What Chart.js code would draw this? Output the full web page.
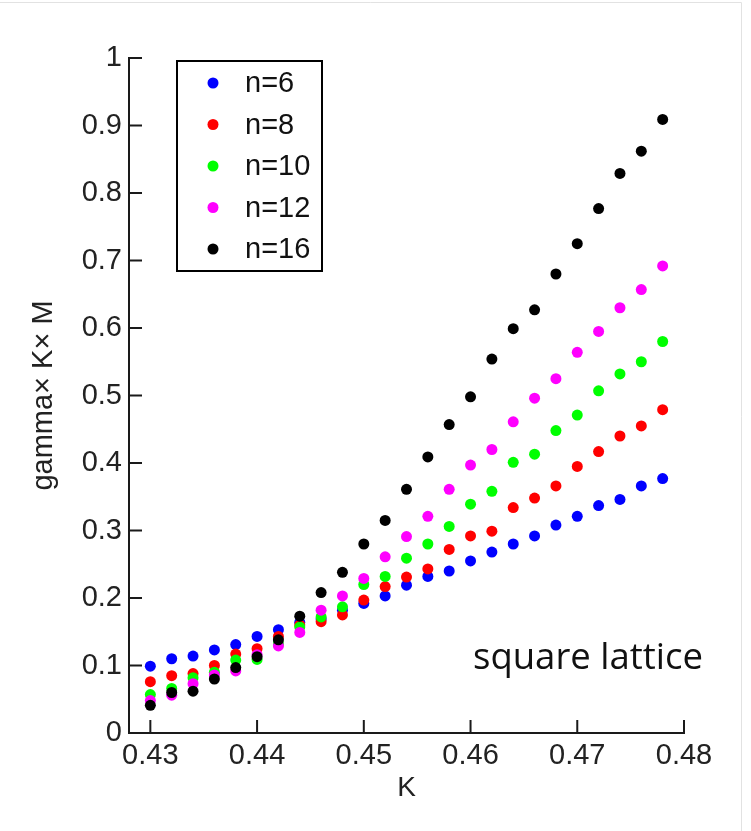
<!DOCTYPE html>
<html>
<head>
<meta charset="utf-8">
<script src="https://cdn.jsdelivr.net/npm/chart.js@4"></script>
<style>
  body { margin: 0; background: #fff; }
  #wrap { width: 751px; height: 831px; }
</style>
</head>
<body>
<div id="wrap"><canvas id="latticeChart" width="751" height="831"></canvas></div>
<script>
// K values (x axis)
const kValues = [0.430, 0.432, 0.434, 0.436, 0.438, 0.440, 0.442, 0.444, 0.446, 0.448,
                 0.450, 0.452, 0.454, 0.456, 0.458, 0.460, 0.462, 0.464, 0.466, 0.468,
                 0.470, 0.472, 0.474, 0.476, 0.478];

// gamma x K x M for each lattice size
const n6 = [0.099, 0.110, 0.114, 0.123, 0.131, 0.143, 0.153, 0.164, 0.169, 0.182,
            0.192, 0.203, 0.219, 0.232, 0.240, 0.255, 0.268, 0.280, 0.292, 0.308,
            0.321, 0.337, 0.346, 0.366, 0.377];
const n8 = [0.076, 0.085, 0.088, 0.100, 0.117, 0.125, 0.143, 0.160, 0.165, 0.175,
            0.197, 0.217, 0.231, 0.243, 0.272, 0.292, 0.299, 0.334, 0.348, 0.366,
            0.395, 0.417, 0.440, 0.455, 0.479];
const n10 = [0.057, 0.066, 0.082, 0.090, 0.108, 0.109, 0.132, 0.157, 0.172, 0.187,
             0.220, 0.232, 0.259, 0.280, 0.306, 0.339, 0.358, 0.401, 0.413, 0.448,
             0.471, 0.507, 0.532, 0.550, 0.580];
const n12 = [0.048, 0.056, 0.073, 0.086, 0.092, 0.116, 0.129, 0.149, 0.182, 0.203,
             0.229, 0.261, 0.291, 0.321, 0.361, 0.397, 0.420, 0.461, 0.496, 0.525,
             0.564, 0.595, 0.630, 0.657, 0.692];
const n16 = [0.041, 0.060, 0.062, 0.080, 0.097, 0.113, 0.138, 0.173, 0.208, 0.238,
             0.280, 0.315, 0.361, 0.409, 0.457, 0.498, 0.554, 0.599, 0.627, 0.680,
             0.725, 0.777, 0.829, 0.862, 0.909];

const seriesLabels = ['n=6', 'n=8', 'n=10', 'n=12', 'n=16'];
const seriesColors = ['#0000ff', '#ff0000', '#00ff00', '#ff00ff', '#000000'];
const seriesValues = [n6, n8, n10, n12, n16];

// tick labels
const xTicks = [0.43, 0.44, 0.45, 0.46, 0.47, 0.48];
const yTicks = [0, 0.1, 0.2, 0.3, 0.4, 0.5, 0.6, 0.7, 0.8, 0.9, 1];

const fontFamily = 'Liberation Sans, Arial, sans-serif';
const axisFont = { family: fontFamily, size: 29 };

const datasets = seriesValues.map((vals, i) => ({
    label: seriesLabels[i],
    data: vals.map((v, j) => ({ x: kValues[j], y: v })),
    backgroundColor: seriesColors[i],
    borderWidth: 0,
    pointRadius: 5.5,
    order: seriesValues.length - i // later series drawn on top
}));

// inward tick marks, legend box and annotation
const decorations = {
    id: 'decorations',
    afterDraw(chart) {
        const ctx = chart.ctx;
        const xs = chart.scales.x, ys = chart.scales.y;
        const area = chart.chartArea;
        ctx.save();
        ctx.strokeStyle = '#1a1a1a';
        ctx.lineWidth = 2;
        ctx.beginPath();
        xTicks.forEach(t => {
            const px = xs.getPixelForValue(t);
            ctx.moveTo(px, area.bottom);
            ctx.lineTo(px, area.bottom - 13);
        });
        yTicks.forEach(t => {
            const py = ys.getPixelForValue(t);
            ctx.moveTo(area.left, py);
            ctx.lineTo(area.left + 13, py);
        });
        ctx.stroke();

        // legend
        ctx.strokeStyle = '#000';
        ctx.lineWidth = 2;
        ctx.strokeRect(177, 61, 145, 210);
        ctx.font = '29px ' + fontFamily;
        ctx.textBaseline = 'middle';
        ctx.textAlign = 'left';
        chart.data.datasets.forEach((ds, i) => {
            const y = 83 + i * 41.5;
            ctx.fillStyle = ds.backgroundColor;
            ctx.beginPath();
            ctx.arc(213, y, 5.5, 0, Math.PI * 2);
            ctx.fill();
            ctx.fillStyle = '#111';
            ctx.fillText(ds.label, 245, y + 1);
        });

        // annotation
        ctx.font = '36.5px Open Sans, sans-serif';
        ctx.textBaseline = 'alphabetic';
        ctx.fillStyle = '#111';
        ctx.fillText('square lattice', 473, 669);

        // faint frame of the original figure
        ctx.strokeStyle = '#e2e2e2';
        ctx.lineWidth = 1;
        ctx.beginPath();
        ctx.moveTo(0, 2.5);
        ctx.lineTo(741.5, 2.5);
        ctx.lineTo(741.5, 831);
        ctx.stroke();
        ctx.restore();
    }
};

new Chart(document.getElementById('latticeChart').getContext('2d'), {
    type: 'scatter',
    data: { datasets: datasets },
    options: {
        responsive: false,
        animation: false,
        layout: { padding: { top: 58, right: 67, left: 0, bottom: 0 } },
        plugins: { legend: { display: false }, tooltip: { enabled: false } },
        scales: {
            x: {
                type: 'linear',
                min: 0.428,
                max: 0.48,
                afterBuildTicks: scale => { scale.ticks = xTicks.map(v => ({ value: v })); },
                afterFit: scale => { scale.height = 98; },
                grid: { display: false, drawTicks: false },
                border: { display: true, color: '#1a1a1a', width: 2 },
                ticks: {
                    color: '#222',
                    font: axisFont,
                    padding: 6,
                    maxRotation: 0,
                    callback: v => v.toFixed(2)
                },
                title: {
                    display: true,
                    text: 'K',
                    color: '#222',
                    font: { family: fontFamily, size: 28 },
                    padding: { top: 0, bottom: 26 }
                }
            },
            y: {
                type: 'linear',
                min: 0,
                max: 1,
                afterBuildTicks: scale => { scale.ticks = yTicks.map(v => ({ value: v })); },
                afterFit: scale => { scale.width = 129; },
                grid: { display: false, drawTicks: false },
                border: { display: true, color: '#1a1a1a', width: 2 },
                ticks: {
                    color: '#222',
                    font: axisFont,
                    padding: 7,
                    callback: v => (v === 0 ? '0' : v === 1 ? '1' : v.toFixed(1))
                },
                title: {
                    display: true,
                    text: 'gamma× K× M',
                    color: '#222',
                    font: { family: fontFamily, size: 29 },
                    padding: { top: 27, bottom: 0 }
                }
            }
        }
    },
    plugins: [decorations]
});
</script>
</body>
</html>
